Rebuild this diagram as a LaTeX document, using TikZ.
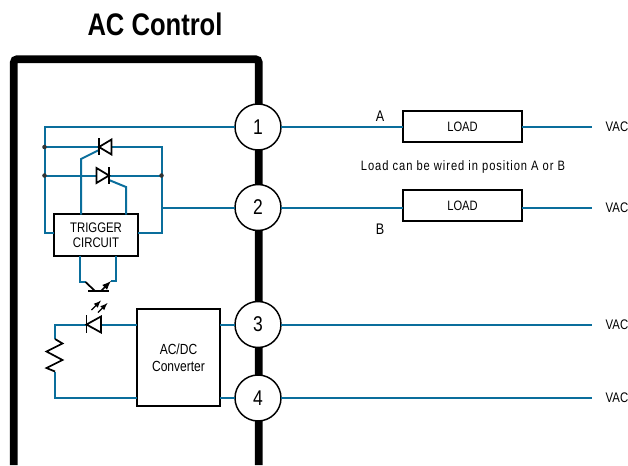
\documentclass[tikz,border=0pt]{standalone}
\usepackage{fontspec}
\setmainfont[FakeStretch=0.82]{Liberation Sans}
\definecolor{wireblue}{HTML}{0A6E9C}
\tikzset{
  wire/.style={draw=wireblue,line width=1.5pt},
  part/.style={draw=black,line width=1.3pt},
  pin/.style={circle,draw=black,fill=white,line width=1.1pt,minimum size=34.5pt,inner sep=0pt,outer sep=0pt,font=\fontsize{16}{16}\selectfont},
  loadbox/.style={draw=black,fill=white,line width=1.5pt,minimum width=89.25pt,minimum height=23.25pt,inner sep=0pt,outer sep=0pt,font=\fontsize{10.2}{12}\selectfont},
  label/.style={inner sep=0pt,font=\fontsize{10.4}{12}\selectfont},
  dot/.style={circle,fill=black!80,minimum size=3.4pt,inner sep=0pt,outer sep=0pt}
}
\begin{document}
\begin{tikzpicture}[x=.75pt,y=-.75pt]
        \useasboundingbox (0,0) rectangle (628,465);

        % enclosure
        \draw[line width=5.8pt,rounded corners=2.5pt] (13.8,465) -- (13.8,59.2) -- (258.8,59.2) -- (258.8,465);

        \node[font=\fontsize{23.4}{25}\bfseries\selectfont] (title) at (155,24.5) {AC Control};

        \node[pin] (pin1) at (258,127) {1};
        \node[pin] (pin2) at (258,207.5) {2};
        \node[pin] (pin3) at (258,324.5) {3};
        \node[pin] (pin4) at (258,398) {4};

        \begin{scope}[every node/.style={loadbox}]
          \node (load1) at (462.5,126.5) {LOAD};
          \node (load2) at (462.5,205.5) {LOAD};
        \end{scope}

        \node[draw,fill=white,line width=1.5pt,minimum width=63pt,minimum height=31pt,inner sep=0pt,outer sep=0pt,align=center,font=\fontsize{10.4}{11}\selectfont] (trigger) at (96,235) {TRIGGER\\CIRCUIT};
        \node[draw,fill=white,line width=1.6pt,minimum width=62.25pt,minimum height=72.75pt,inner sep=0pt,outer sep=0pt,align=center,font=\fontsize{11}{12.5}\selectfont] (conv) at (178.5,357.5) {AC/DC\\Converter};

        \begin{scope}[every node/.style={label}]
          \node (vac1) at (617,127) {VAC};
          \node (vac2) at (617,207.5) {VAC};
          \node (vac3) at (617,324.5) {VAC};
          \node (vac4) at (617,398) {VAC};
          \node[font=\fontsize{11.5}{12}\selectfont] (posa) at (380,116) {A};
          \node[font=\fontsize{11.5}{12}\selectfont] (posb) at (380,229) {B};
          \node[font=\fontsize{10.2}{12}\addfontfeature{LetterSpace=7}\selectfont] (note) at (463,167) {Load can be wired in position A or B};
        \end{scope}

        \coordinate (end1) at (592,127);
        \coordinate (end2) at (592,207.5);
        \coordinate (end3) at (592,324.5);
        \coordinate (end4) at (592,398);
        \coordinate (outl) at (44.5,127);
        \coordinate (join1) at (44.5,147);
        \coordinate (join2) at (44.5,175.5);
        \coordinate (join3) at (161.5,175.5);
        \coordinate (trigl) at (44.5,233);
        \coordinate (trigr) at (161.5,233);
        \coordinate (topr) at (161.5,147);
        \coordinate (midr) at (161.5,207.5);
        \coordinate (gatea) at (99,150);
        \coordinate (gateb) at (109,180);
        \coordinate (collb) at (85.5,282);
        \coordinate (emit) at (111,281);
        \coordinate (ledl) at (55,324.5);
        \coordinate (resta) at (55,339);
        \coordinate (restb) at (55,371.5);
        \coordinate (retl) at (55,398);

        % wires
        \draw[wire] (pin1.east) -- (load1.west |- pin1.east);
        \draw[wire] (load1.east |- pin1.east) -- (end1);
        \draw[wire] (pin2.east) -- (load2.west |- pin2.east);
        \draw[wire] (load2.east |- pin2.east) -- (end2);
        \draw[wire] (pin3.east) -- (end3);
        \draw[wire] (pin4.east) -- (end4);
        \draw[wire] (pin1.west) -- (outl) -- (trigl) -- (trigger.west |- trigl);
        \draw[wire] (join1) -- (topr) -- (trigr) -- (trigger.east |- trigr);
        \draw[wire] (join2) -- (join3);
        \draw[wire] (midr) -- (pin2.west);
        \draw[wire] (gatea) -- (81,159) -- (81,214.5);
        \draw[wire] (gateb) -- (126,187) -- (126,214.5);
        \draw[wire] (80,255.5) -- (80,282) -- (collb);
        \draw[wire] (116,255.5) -- (116,281) -- (emit);
        \draw[wire] (conv.east |- pin3) -- (pin3.west);
        \draw[wire] (conv.east |- pin4) -- (pin4.west);
        \draw[wire] (conv.west |- ledl) -- (ledl) -- (resta);
        \draw[wire] (restb) -- (retl) -- (conv.west |- retl);

        \node[dot] (dot1) at (join1) {};
        \node[dot] (dot2) at (join2) {};
        \node[dot] (dot3) at (join3) {};

        % thyristors
        \draw[part,fill=white] (99,147) -- (111.5,139.5) -- (111.5,154.5) -- cycle;
        \draw[part] (99,138) -- (99,155);
        \draw[part,fill=white] (109,175.5) -- (96.5,168) -- (96.5,183) -- cycle;
        \draw[part] (109,167) -- (109,184);

        % transistor
        \draw[part] (88,291) -- (109,291);
        \draw[part] (85.5,282) -- (95,291);
        \draw[part,-latex] (101,291) -- (111,281);

        % led
        \draw[part,fill=white] (86.5,324.5) -- (101,316.5) -- (101,332.5) -- cycle;
        \draw[part] (86.5,315) -- (86.5,333);
        \draw[line width=.9pt,-latex] (91.5,310) -- (101,300.5);
        \draw[line width=.9pt,-latex] (98,312.5) -- (107.5,303);

        % resistor
        \draw[part] (resta) -- (62.5,343.5) -- (46.5,351.5) -- (62.5,360) -- (46.5,368) -- (restb);
\end{tikzpicture}
\end{document}
